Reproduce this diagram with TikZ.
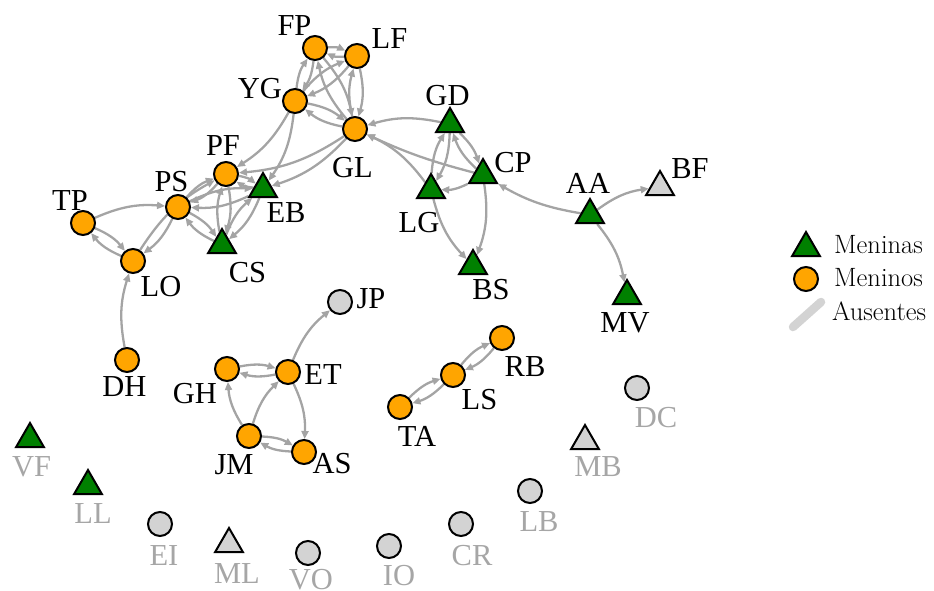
\documentclass[tikz,border=0pt]{standalone}
\usepackage{fontspec}
\newfontfamily\labfont{Liberation Serif}
\usetikzlibrary{shapes.geometric,arrows.meta}
\pgfdeclarelayer{bg}
\pgfsetlayers{bg,main}
\definecolor{orng}{HTML}{FFA500}
\definecolor{grn}{HTML}{008000}
\definecolor{lgry}{HTML}{D3D3D3}
\definecolor{ecol}{HTML}{A4A4A4}
\definecolor{txtgry}{HTML}{A6A6A6}
\begin{document}
\begin{tikzpicture}[x=1pt,y=-1pt,
  boy/.style={circle,draw=black,line width=2pt,fill=orng,minimum size=24pt,inner sep=0pt},
  girl/.style={regular polygon,regular polygon sides=3,draw=black,line width=2pt,fill=grn,minimum size=32pt,inner sep=0pt},
  gboy/.style={boy,fill=lgry},
  ggirl/.style={girl,fill=lgry},
  lab/.style={font=\fontsize{30.5}{30.5}\selectfont\labfont,anchor=base,inner sep=0pt},
  glab/.style={lab,text=txtgry},
  leg/.style={font=\fontsize{26.5}{26.5}\selectfont,anchor=base west,inner sep=0pt},
  e/.style={draw=ecol,line width=2.3pt,-{Triangle[length=8pt,width=7pt]},bend left=14},
  er/.style={e,bend right=14}]
\useasboundingbox (0,0) rectangle (934,590);
% nodes
\node[boy] (FP) at (315,48) {};
\node[boy] (LF) at (357,56) {};
\node[boy] (YG) at (295,101) {};
\node[boy] (GL) at (355,129) {};
\node[boy] (PF) at (226,174) {};
\node[boy] (PS) at (178,207) {};
\node[boy] (TP) at (83,223) {};
\node[boy] (LO) at (133,261) {};
\node[boy] (DH) at (127,360) {};
\node[girl] (EB) at (263,189) {};
\node[girl] (CS) at (222,245) {};
\node[girl] (GD) at (450,124) {};
\node[girl] (CP) at (483,175) {};
\node[girl] (LG) at (431,190) {};
\node[girl] (BS) at (473,266) {};
\node[girl] (AA) at (590,215) {};
\node[ggirl] (BF) at (660,187) {};
\node[girl] (MV) at (627,296) {};
\node[gboy] (JP) at (340,302) {};
\node[boy] (GH) at (227,369) {};
\node[boy] (ET) at (288,372) {};
\node[boy] (JM) at (249,436) {};
\node[boy] (AS) at (304,452) {};
\node[boy] (RB) at (502,338) {};
\node[boy] (LS) at (453,375) {};
\node[boy] (TA) at (400,407) {};
\node[gboy] (DC) at (637,388) {};
\node[ggirl] (MB) at (585,441) {};
\node[gboy] (LB) at (530,491) {};
\node[gboy] (CR) at (461,524) {};
\node[gboy] (IO) at (389,546) {};
\node[gboy] (VO) at (308,553) {};
\node[ggirl] (ML) at (229,544) {};
\node[gboy] (EI) at (160,524) {};
\node[girl] (LL) at (88,486) {};
\node[girl] (VF) at (30,439) {};
% labels
\node[lab] (FPl) at (294.5,35) {FP};
\node[lab] (LFl) at (389.5,48) {LF};
\node[lab] (YGl) at (260,98) {YG};
\node[lab] (GLl) at (352.5,177) {GL};
\node[lab] (PFl) at (223,155) {PF};
\node[lab] (PSl) at (171.5,191) {PS};
\node[lab] (TPl) at (70,210) {TP};
\node[lab] (LOl) at (161,296) {LO};
\node[lab] (EBl) at (286,222) {EB};
\node[lab] (CSl) at (247.5,282) {CS};
\node[lab] (DHl) at (124.5,396) {DH};
\node[lab] (GDl) at (447.5,105) {GD};
\node[lab] (CPl) at (513,172) {CP};
\node[lab] (LGl) at (419,232) {LG};
\node[lab] (BSl) at (491,299) {BS};
\node[lab] (AAl) at (588,193) {AA};
\node[lab] (BFl) at (690,178) {BF};
\node[lab] (MVl) at (625,332) {MV};
\node[lab] (JPl) at (371,308) {JP};
\node[lab] (ETl) at (323,384) {ET};
\node[lab] (GHl) at (195,403) {GH};
\node[lab] (JMl) at (234,474) {JM};
\node[lab] (ASl) at (332,473) {AS};
\node[lab] (RBl) at (525,376) {RB};
\node[lab] (LSl) at (479.5,409) {LS};
\node[lab] (TAl) at (417,446) {TA};
\node[glab] (DCl) at (656,427) {DC};
\node[glab] (MBl) at (598,476) {MB};
\node[glab] (LBl) at (539,531) {LB};
\node[glab] (CRl) at (472,565) {CR};
\node[glab] (IOl) at (399,585) {IO};
\node[glab] (VOl) at (311,589) {VO};
\node[glab] (MLl) at (237,583) {ML};
\node[glab] (EIl) at (164,565) {EI};
\node[glab] (LLl) at (93,523) {LL};
\node[glab] (VFl) at (31.5,476) {VF};
% legend
\node[girl] (lg1) at (806,248) {};
\node[boy] (lg2) at (806,279) {};
\coordinate (lg3a) at (793,327);
\coordinate (lg3b) at (821,302);
\draw[line width=8.5pt,lgry,line cap=round] (lg3a) -- (lg3b);
\node[leg] (lt1) at (834,253) {Meninas};
\node[leg] (lt2) at (834,286) {Meninos};
\node[leg] (lt3) at (832,320) {Ausentes};
% edges
\begin{pgfonlayer}{bg}
\draw[e] (FP) to (LF); \draw[e] (LF) to (FP);
\draw[e] (FP) to (YG); \draw[e] (YG) to (FP);
\draw[e] (FP) to (GL); \draw[e] (GL) to (FP);
\draw[e] (LF) to (GL); \draw[e] (GL) to (LF);
\draw[e] (LF) to (YG); \draw[e] (YG) to (LF);
\draw[e] (YG) to (GL); \draw[e] (GL) to (YG);
\draw[e] (PS) to (PF); \draw[e] (PF) to (PS);
\draw[e] (PS) to (EB); \draw[e] (EB) to (PS);
\draw[e] (PS) to (CS); \draw[e] (CS) to (PS);
\draw[e] (PF) to (CS); \draw[e] (CS) to (PF);
\draw[e] (PF) to (EB); \draw[e] (EB) to (PF);
\draw[e] (EB) to (CS); \draw[e] (CS) to (EB);
\draw[e] (TP) to (LO); \draw[e] (LO) to (TP);
\draw[e] (GD) to (LG); \draw[e] (LG) to (GD);
\draw[e] (GD) to (CP); \draw[e] (CP) to (GD);
\draw[e] (GH) to (ET); \draw[e] (ET) to (GH);
\draw[e] (JM) to (AS); \draw[e] (AS) to (JM);
\draw[e] (TA) to (LS); \draw[e] (LS) to (TA);
\draw[e] (LS) to (RB); \draw[e] (RB) to (LS);
\draw[e] (YG) to (PF);
\draw[e] (YG) to (EB);
\draw[e] (GL) to (PF);
\draw[e] (GL) to (EB);
\draw[er] (GD) to (GL);
\draw[e,bend left=5] (CP) to (GL);
\draw[er] (LG) to (GL);
\draw[e] (CP) to (LG);
\draw[er] (LG) to (BS);
\draw[e] (CP) to (BS);
\draw[e,bend left=10] (AA) to (CP);
\draw[e] (AA) to (BF);
\draw[e] (AA) to (MV);
\draw[e] (TP) to (PS);
\draw[e] (PS) to (LO);
\draw[e] (LO) to (PF);
\draw[e] (DH) to (LO);
\draw[e] (ET) to (JP);
\draw[e] (JM) to (GH);
\draw[e] (JM) to (ET);
\draw[e] (ET) to (AS);
\end{pgfonlayer}
\end{tikzpicture}
\end{document}
